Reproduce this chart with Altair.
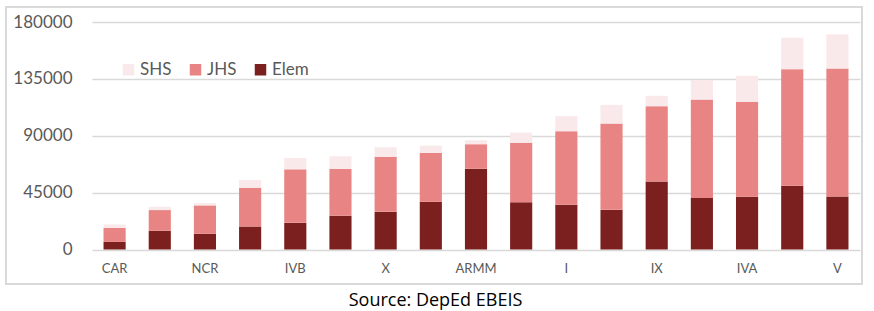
import altair as alt
import pandas as pd

regions = ["CAR", "CARAGA", "NCR", "II", "IVB", "XII", "X", "XI", "ARMM",
           "VIII", "I", "VI", "IX", "VII", "IVA", "III", "V"]
elem = [6000, 14800, 12400, 18200, 21100, 26700, 29800, 37700, 63900,
        37300, 35400, 31400, 53900, 40700, 41700, 50400, 42000]
jhs = [11100, 16400, 22500, 30700, 42300, 37000, 43600, 38700, 19400,
       47200, 58200, 68200, 59500, 77900, 75300, 92300, 101200]
shs = [2700, 2600, 1800, 6100, 9000, 10000, 7500, 5800, 3100,
       8000, 11900, 14800, 8200, 15400, 20400, 24900, 27000]
shown_labels = ["CAR", "NCR", "IVB", "X", "ARMM", "I", "IX", "IVA", "V"]
y_ticks = [0, 45000, 90000, 135000, 180000]
levels = ["SHS", "JHS", "Elem"]
level_colors = ["#FAE9EA", "#E88584", "#7B1F1F"]
stack_order = {"Elem": 0, "JHS": 1, "SHS": 2}
source_text = "Source: DepEd EBEIS"

rows = []
for i, r in enumerate(regions):
    for lvl, vals in (("Elem", elem), ("JHS", jhs), ("SHS", shs)):
        rows.append({"region": r, "level": lvl, "value": vals[i], "ord": stack_order[lvl]})
df = pd.DataFrame(rows)

FONT = "Lato"
GRAY = "#595959"

bars = alt.Chart(df).mark_bar().encode(
    x=alt.X("region:N", sort=regions,
            scale=alt.Scale(paddingInner=0.51, paddingOuter=0.255),
            axis=alt.Axis(values=shown_labels, title=None, labelAngle=0, tickSize=0,
                          domain=False, labelPadding=13, labelFontSize=13,
                          labelColor=GRAY, labelFont=FONT, grid=False)),
    y=alt.Y("value:Q", stack="zero",
            scale=alt.Scale(domain=[0, 180000], nice=False),
            axis=alt.Axis(values=y_ticks, format="d", title=None, tickSize=0, domain=False,
                          labelPadding=20, labelFontSize=17, labelColor=GRAY,
                          labelFont=FONT, gridColor="#D9D9D9", gridWidth=1.5)),
    color=alt.Color("level:N", scale=alt.Scale(domain=levels, range=level_colors),
                    legend=alt.Legend(title=None, orient="none", direction="horizontal",
                                      legendX=28, legendY=39, padding=0,
                                      symbolType="square", symbolSize=132,
                                      symbolStrokeWidth=0, symbolOpacity=1,
                                      labelFontSize=17, labelColor=GRAY, labelFont=FONT,
                                      labelOffset=3, columnPadding=15)),
    order=alt.Order("ord:Q"),
)

border = alt.Chart(pd.DataFrame({"k": [0]})).mark_rect(
    fill=None, stroke="#D9D9D9", strokeWidth=2, clip=False
).encode(x=alt.value(-86), x2=alt.value(770), y=alt.value(-15), y2=alt.value(262))

source = alt.Chart(pd.DataFrame({"t": [source_text]})).mark_text(
    fontSize=18, font="Open Sans", color="#000000", align="center",
    baseline="alphabetic", clip=False
).encode(text="t:N", x=alt.value(343.5), y=alt.value(284))

chart = alt.layer(border, bars, source).properties(
    width=768, height=227.5,
    autosize=alt.AutoSizeParams(type="none"),
    padding={"left": 92, "top": 22, "right": 14, "bottom": 61.5},
    background="white",
).configure_view(stroke=None)

chart.save("out.html", embed_options={"renderer": "svg", "actions": False})
